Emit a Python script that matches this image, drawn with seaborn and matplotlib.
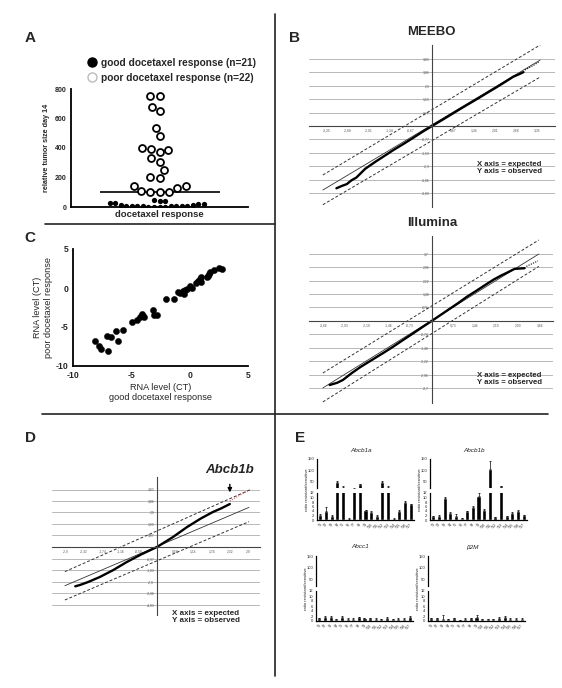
import numpy as np
import pandas as pd
import matplotlib
matplotlib.use("Agg")
import matplotlib.pyplot as plt
import seaborn as sns
from matplotlib.lines import Line2D

# ---------------- data ----------------
# Panel A
good_response = [40, 26, 20, 19, 12, 9, 7, 5, 4, 3, 2, 2, 3, 4, 5, 7, 10, 15, 24, 42, 50]
poor_response = [750, 750, 650, 680, 535, 480, 400, 385, 370, 395, 330, 305, 250,
                 200, 205, 130, 145, 140, 100, 100, 100, 110]
legend_labels = ["good docetaxel response (n=21)", "poor docetaxel response (n=22)"]
category_a = "docetaxel response"
yticks_a = [0, 200, 400, 600, 800]

# Panel C
rna_good = [-8.14, -7.8, -7.6, -7.09, -7.03, -6.74, -6.31, -6.11, -5.71, -4.94, -4.51, -4.29,
            -4.11, -3.94, -4.0, -3.17, -3.03, -2.77, -2.03, -1.31, -0.97, -0.8, -0.51, -0.43,
            -0.23, 0.06, 0.2, 0.51, 0.91, 0.94, 1.0, 1.54, 1.63, 1.77, 2.06, 2.49, 2.77, 1.49,
            0.71, -0.6]
rna_poor = [-6.82, -7.42, -7.81, -6.13, -8.07, -6.3, -5.53, -6.82, -5.4, -4.41, -4.11, -3.77,
            -3.38, -3.77, -3.55, -2.82, -3.42, -3.47, -1.36, -1.36, -0.46, -0.59, -0.76, -0.24,
            -0.11, 0.32, 0.01, 0.62, 1.13, 0.79, 1.39, 1.52, 1.78, 1.99, 2.25, 2.51, 2.46, 1.39,
            0.87, -0.4]
ticks_c = [-10, -5, 0, 5]

# Panel B - MEEBO QQ
meebo_xticks = [-3.35, -2.68, -2.01, -1.34, -0.67, 0.67, 1.34, 2.01, 2.68, 3.35]
meebo_yticks = [-3.83, -3.06, -2.30, -1.53, -0.77, 0.77, 1.53, 2.30, 3.06, 3.83]
meebo_exp = [-3.03, -2.85, -2.7, -2.55, -2.4, -2.12, -1.8, -1.5, -1.23, -0.9, -0.6, -0.3, 0.0,
             0.3, 0.6, 0.9, 1.2, 1.5, 1.8, 2.06, 2.3, 2.58, 2.75, 2.9]
meebo_obs = [-3.56, -3.42, -3.32, -3.1, -2.95, -2.45, -2.05, -1.7, -1.38, -1.02, -0.68, -0.33,
             0.0, 0.32, 0.65, 0.98, 1.3, 1.62, 1.95, 2.23, 2.5, 2.82, 2.95, 3.08]
meebo_tail_exp = [2.95, 3.1, 3.25, 3.4]
meebo_tail_obs = [3.2, 3.35, 3.5, 3.68]
meebo_ref = ([-3.46, 3.43], [-3.66, 3.77])
meebo_upper = ([-3.46, 3.43], [-2.8, 4.63])
meebo_lower = ([-3.46, 3.43], [-4.5, 2.8])

# Panel B - Illumina QQ
illu_xticks = [-3.66, -2.93, -2.19, -1.46, -0.73, 0.73, 1.46, 2.19, 2.93, 3.66]
illu_yticks = [-3.7, -2.96, -2.22, -1.48, -0.74, 0.74, 1.48, 2.22, 2.96, 3.7]
illu_exp = [-3.45, -3.2, -3.0, -2.7, -2.4, -2.0, -1.6, -1.32, -1.0, -0.6, -0.3, 0.0, 0.3, 0.6,
            0.9, 1.18, 1.5, 1.8, 2.1, 2.35, 2.53, 2.7, 2.8, 2.95, 3.14]
illu_obs = [-3.52, -3.4, -3.24, -2.86, -2.52, -2.12, -1.72, -1.43, -1.08, -0.65, -0.32, 0.0,
            0.33, 0.66, 0.99, 1.32, 1.65, 1.97, 2.28, 2.5, 2.64, 2.78, 2.86, 2.88, 2.9]
illu_tail_exp = [3.2, 3.42, 3.59]
illu_tail_obs = [3.0, 3.17, 3.3]
illu_ref = ([-3.68, 3.62], [-3.68, 3.68])
illu_upper = ([-3.68, 3.62], [-2.86, 4.45])
illu_lower = ([-3.68, 3.62], [-4.45, 3.0])

# Panel D - QQ with Abcb1b
d_xticks = [-2.90, -2.32, -1.74, -1.16, -0.58, 0.58, 1.16, 1.74, 2.32, 2.90]
d_yticks = [-4.83, -3.86, -2.90, -1.93, -0.97, 0.97, 1.93, 2.90, 3.86, 4.83]
d_exp = [-2.6, -2.45, -2.2, -1.82, -1.4, -0.96, -0.5, 0.0, 0.5, 0.96, 1.4, 1.78, 2.05, 2.32]
d_obs = [-3.3, -3.19, -2.95, -2.52, -1.95, -1.26, -0.62, 0.0, 0.82, 1.68, 2.4, 2.94, 3.25, 3.61]
d_tail_exp = [2.32, 2.6, 2.9]
d_tail_obs = [3.86, 4.3, 4.73]
d_ref = ([-2.93, 2.93], [-3.25, 3.33])
d_upper = ([-2.93, 3.0], [-2.07, 4.85])
d_lower = ([-2.93, 2.93], [-4.45, 2.13])

# Panel E - bar charts (ratio resistant/sensitive)
e_cats = ["T1", "T2", "T3", "T4", "T5", "T6", "T7", "T8", "T9", "T10", "T11", "T12",
          "T13", "T14", "T15", "T16", "T17"]
abcb1a_vals = [2.2, 4.2, 2.0, 45, 26, 0.6, 17, 36, 4.3, 3.5, 1.6, 46, 26, 0.6, 3.8, 7.8, 7.0]
abcb1a_errs = [0.5, 1.8, 0.3, 5, 2, 0.1, 4, 2, 0.3, 0.4, 0.6, 5, 2, 0.1, 0.5, 0.6, 0.2]
abcb1b_vals = [1.8, 1.8, 9.6, 3.3, 2.0, 0.8, 3.8, 6.0, 10.8, 4.5, 105, 1.3, 28, 1.7, 3.1, 4.0, 2.2]
abcb1b_errs = [0.2, 0.3, 0.6, 0.3, 0.5, 0.1, 0.3, 0.3, 1.0, 0.3, 38, 0.2, 2, 0.2, 0.6, 0.3, 0.2]
abcc1_vals = [1.2, 1.8, 1.7, 0.8, 1.7, 1.0, 1.0, 1.5, 1.1, 1.1, 1.0, 0.8, 1.3, 0.9, 1.0, 1.0, 1.5]
abcc1_errs = [0.2, 0.2, 0.3, 0.1, 0.4, 0.1, 0.1, 0.2, 0.1, 0.1, 0.1, 0.1, 0.2, 0.1, 0.1, 0.1, 0.4]
b2m_vals = [1.1, 1.2, 1.0, 0.8, 1.1, 0.5, 1.0, 1.1, 1.8, 0.9, 0.9, 0.9, 1.4, 1.8, 1.0, 1.0, 1.0]
b2m_errs = [0.1, 0.2, 1.4, 0.1, 0.1, 0.1, 0.1, 0.2, 0.5, 0.1, 0.1, 0.1, 0.3, 0.4, 0.1, 0.1, 0.1]
e_titles = ["Abcb1a", "Abcb1b", "Abcc1", "β2M"]
e_upper_ticks = [50, 100, 150]
e_lower_ticks = [0, 2, 4, 6, 8, 10, 12]

# ---------------- figure ----------------
W, H = 562, 688
sns.set_theme(style="white")
plt.rcParams["font.family"] = ["Liberation Sans", "DejaVu Sans"]
plt.rcParams["axes.unicode_minus"] = False
fig = plt.figure(figsize=(W / 100, H / 100), dpi=100)
fig.patch.set_facecolor("white")


def px_axes(x0, y0, x1, y1):
    return fig.add_axes([x0 / W, 1 - y1 / H, (x1 - x0) / W, (y1 - y0) / H])


def fig_line(x0, y0, x1, y1, lw=1.2):
    fig.add_artist(Line2D([x0 / W, x1 / W], [1 - y0 / H, 1 - y1 / H],
                          transform=fig.transFigure, color="#222222", lw=lw))


def fig_text(x, y, s, **kw):
    fig.text(x / W, 1 - y / H, s, **kw)


def comma(v):
    s = f"{v:.2f}".rstrip("0").rstrip(".")
    return s.replace(".", ",")


# dividers
fig_line(275, 14, 275, 676)
fig_line(45, 224, 275, 224)
fig_line(42, 414, 548, 414)

# panel letters
for letter, x, y in [("A", 30, 38), ("B", 294, 38), ("C", 30, 238), ("D", 30, 438), ("E", 300, 438)]:
    fig_text(x, y, letter, fontsize=11, fontweight="bold", ha="center", va="center")

# ---------------- Panel A ----------------
axA = px_axes(71, 89, 248, 207)
dfg = pd.DataFrame({"resp": [category_a] * len(good_response), "size": good_response})
dfp = pd.DataFrame({"resp": [category_a] * len(poor_response), "size": poor_response})
sns.swarmplot(data=dfg, x="resp", y="size", color="black", size=3.8, ax=axA, warn_thresh=1)
sns.swarmplot(data=dfp, x="resp", y="size", color="white", edgecolor="black",
              linewidth=1.3, size=5.0, ax=axA, warn_thresh=1)
med = np.median(good_response + poor_response)
axA.hlines(med, -0.335, 0.34, color="black", lw=1.2, zorder=0)
axA.set_xlim(-0.5, 0.5)
axA.set_ylim(0, 800)
axA.set_yticks(yticks_a)
axA.set_xlabel("")
axA.set_ylabel("relative tumor size day 14", fontsize=5.2, fontweight="bold", labelpad=3)
for sp in ["top", "right"]:
    axA.spines[sp].set_visible(False)
for sp in ["left", "bottom"]:
    axA.spines[sp].set_linewidth(1.3)
    axA.spines[sp].set_color("black")
axA.tick_params(axis="y", length=2.5, width=1, direction="out", labelsize=5, pad=1)
axA.tick_params(axis="x", length=0, labelsize=6.8, pad=2.5)
for t in axA.get_yticklabels() + axA.get_xticklabels():
    t.set_fontweight("bold")
axA.set_facecolor("none")
handles = [Line2D([], [], marker="o", ls="", markerfacecolor="black", markeredgecolor="black", markersize=6.5),
           Line2D([], [], marker="o", ls="", markerfacecolor="white", markeredgecolor="#bbbbbb", markersize=6.5)]
fig.legend(handles, legend_labels, loc="center left", bbox_to_anchor=(87 / W, 1 - 70.5 / H),
           frameon=False, prop={"weight": "bold", "size": 7.3}, handletextpad=0.35,
           labelspacing=0.5, handlelength=1.0, borderpad=0, borderaxespad=0)

# ---------------- Panel C ----------------
axC = px_axes(73, 249, 248, 366)
sns.scatterplot(x=rna_good, y=rna_poor, color="black", s=20, edgecolor="black", linewidth=0.3, ax=axC)
axC.set_xlim(-10, 5)
axC.set_ylim(-10, 5)
axC.set_xticks(ticks_c)
axC.set_yticks(ticks_c)
for sp in ["top", "right"]:
    axC.spines[sp].set_visible(False)
for sp in ["left", "bottom"]:
    axC.spines[sp].set_linewidth(1.3)
    axC.spines[sp].set_color("black")
axC.tick_params(length=2.5, width=1, direction="out", labelsize=6.2, pad=1)
for t in axC.get_yticklabels() + axC.get_xticklabels():
    t.set_fontweight("bold")
axC.set_xlabel("RNA level (CT)\ngood docetaxel response", fontsize=6.6, labelpad=2, linespacing=1.2)
axC.set_ylabel("RNA level (CT)\npoor docetaxel response", fontsize=6.6, labelpad=2, linespacing=1.2)
axC.set_facecolor("none")


# ---------------- QQ panels ----------------
def qq_panel(box, xlim, ylim, xt, yt, cx, cy, ref, upper, lower, tx, ty, tail_color="black"):
    ax = px_axes(*box)
    ax.set_xlim(xlim)
    ax.set_ylim(ylim)
    for v in yt:
        ax.axhline(v, color="#b8b8b8", lw=0.7, zorder=0)
    for sp in ["top", "right"]:
        ax.spines[sp].set_visible(False)
    ax.spines["left"].set_position(("data", 0))
    ax.spines["bottom"].set_position(("data", 0))
    for sp in ["left", "bottom"]:
        ax.spines[sp].set_color("#444444")
        ax.spines[sp].set_linewidth(0.8)
    ax.set_xticks(xt)
    ax.set_xticklabels([comma(v) for v in xt])
    ax.set_yticks(yt)
    ax.set_yticklabels([comma(v) for v in yt])
    ax.tick_params(length=2, width=0.5, direction="inout", labelsize=2.4,
                   colors="#555555", pad=1)
    ax.plot(ref[0], ref[1], color="#333333", lw=0.6)
    ax.plot(upper[0], upper[1], color="#333333", lw=0.7, ls=(0, (3, 2)))
    ax.plot(lower[0], lower[1], color="#333333", lw=0.7, ls=(0, (3, 2)))
    sns.lineplot(x=cx, y=cy, sort=False, estimator=None, color="black", lw=1.7, ax=ax)
    ax.plot(tx, ty, color=tail_color, lw=0.8, ls=(0, (1, 1.2)))
    ax.set_facecolor("none")
    ax.grid(False)
    return ax


axB1 = qq_panel((309, 45, 555, 207), (-3.9, 3.9), (-4.63, 4.63), meebo_xticks, meebo_yticks,
                meebo_exp, meebo_obs, meebo_ref, meebo_upper, meebo_lower,
                meebo_tail_exp, meebo_tail_obs)
fig_text(431, 32, "MEEBO", fontsize=9.5, fontweight="bold", ha="center", va="center")
fig_text(477, 168, "X axis = expected\nY axis = observed", fontsize=5.6, fontweight="bold",
         ha="left", va="center", linespacing=1.15)

axB2 = qq_panel((309, 236, 553, 403), (-4.15, 4.1), (-4.51, 4.67), illu_xticks, illu_yticks,
                illu_exp, illu_obs, illu_ref, illu_upper, illu_lower,
                illu_tail_exp, illu_tail_obs)
fig_text(432, 223, "Illumina", fontsize=9.5, fontweight="bold", ha="center", va="center")
fig_text(477, 379, "X axis = expected\nY axis = observed", fontsize=5.6, fontweight="bold",
         ha="left", va="center", linespacing=1.15)

axD = qq_panel((52, 477, 260, 615), (-3.34, 3.28), (-5.71, 5.88), d_xticks, d_yticks,
               d_exp, d_obs, d_ref, d_upper, d_lower, d_tail_exp, d_tail_obs,
               tail_color="#e05a5a")
axD.annotate("", xy=(d_tail_exp[0], 4.35), xytext=(d_tail_exp[0], 5.5),
             arrowprops=dict(arrowstyle="-|>", color="black", lw=1.0, mutation_scale=6),
             annotation_clip=False)
fig_text(230, 470, "Abcb1b", fontsize=9.5, fontweight="bold", style="italic",
         ha="center", va="center")
fig_text(172, 617, "X axis = expected\nY axis = observed", fontsize=5.8, fontweight="bold",
         ha="left", va="center", linespacing=1.15)


# ---------------- Panel E ----------------
def bar_panel(x0, x1, yu0, yu1, yl0, yl1, vals, errs, title, title_y):
    axu = px_axes(x0, yu0, x1, yu1)
    axl = px_axes(x0, yl0, x1, yl1)
    n = len(vals)
    for ax in (axu, axl):
        sns.barplot(x=e_cats, y=vals, color="black", width=0.72, errorbar=None,
                    saturation=1, ax=ax)
        ax.errorbar(range(n), vals, yerr=[np.zeros(n), errs], fmt="none",
                    ecolor="black", elinewidth=0.5, capsize=1.0, capthick=0.5)
        ax.set_xlim(-0.6, n - 0.4)
        for sp in ["top", "right"]:
            ax.spines[sp].set_visible(False)
        ax.spines["left"].set_linewidth(0.9)
        ax.spines["left"].set_color("black")
        ax.spines["bottom"].set_linewidth(0.9)
        ax.spines["bottom"].set_color("black")
        ax.tick_params(axis="y", length=1.5, width=0.6, direction="out", labelsize=3, pad=0.5)
        ax.set_facecolor("none")
        ax.set_ylabel("")
    axu.set_ylim(20, 150)
    axu.set_yticks(e_upper_ticks)
    axu.spines["bottom"].set_visible(False)
    axu.set_xticks([])
    axl.set_ylim(0, 12)
    axl.set_yticks(e_lower_ticks)
    axl.tick_params(axis="x", length=1.2, width=0.5, direction="out", labelsize=2.6, pad=0.5)
    for t in axl.get_xticklabels():
        t.set_rotation(45)
        t.set_ha("right")
        t.set_rotation_mode("anchor")
    fig_text((x0 + x1) / 2 - 4, title_y, title, fontsize=4.6, style="italic",
             ha="center", va="center")
    fig_text(x0 - 10, (yu0 + yl1) / 2, "ratio resistant/sensitive", fontsize=3.1,
             rotation=90, ha="center", va="center")


bar_panel(317, 414, 459, 488, 493, 520, abcb1a_vals, abcb1a_errs, e_titles[0], 450)
bar_panel(430, 527, 459, 488, 493, 520, abcb1b_vals, abcb1b_errs, e_titles[1], 450)
bar_panel(316, 413, 556, 586, 591, 621, abcc1_vals, abcc1_errs, e_titles[2], 547)
bar_panel(428, 525, 556, 586, 591, 621, b2m_vals, b2m_errs, e_titles[3], 547)

fig.savefig("out.png", dpi=100, facecolor="white")
